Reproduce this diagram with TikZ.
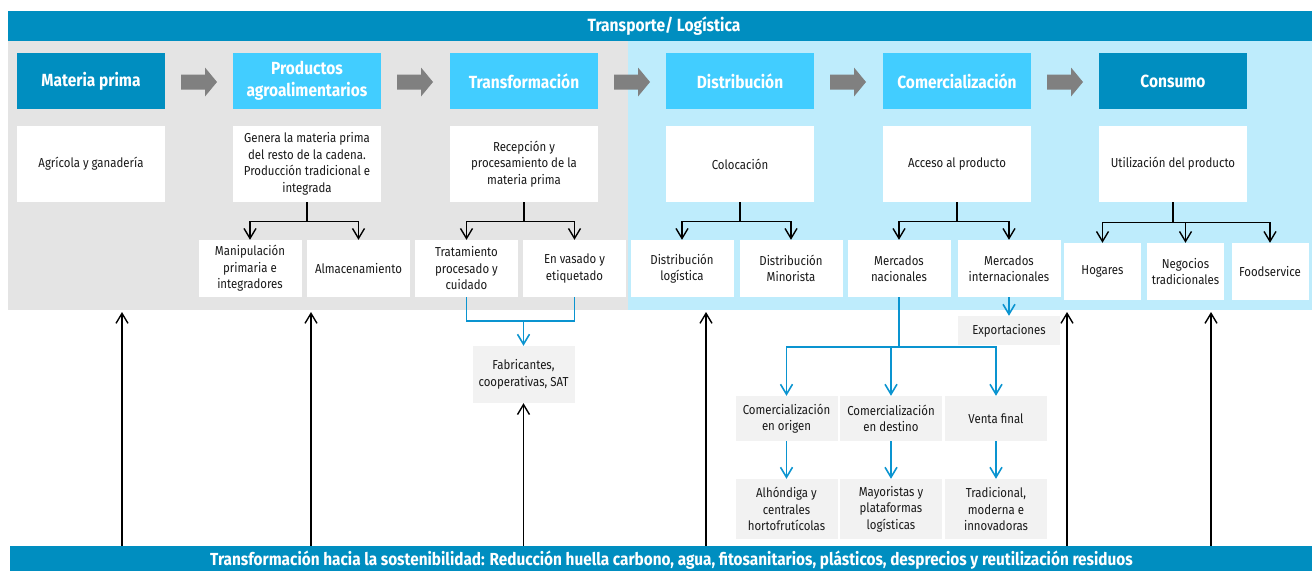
\documentclass[tikz,border=0pt]{standalone}
\usepackage{fontspec}
\setmainfont{Fira Sans}[FakeStretch=0.88]
\usetikzlibrary{arrows.meta}
\definecolor{dblue}{RGB}{0,142,192}
\definecolor{lblue}{RGB}{66,205,255}
\definecolor{bgblue}{RGB}{190,236,252}
\definecolor{bggray}{RGB}{228,228,228}
\definecolor{boxgray}{RGB}{242,242,242}
\definecolor{cblue}{RGB}{10,148,208}
\definecolor{agray}{RGB}{128,128,128}
\definecolor{txt}{RGB}{25,25,25}
\tikzset{
  hdr/.style={minimum width=148pt, minimum height=56pt, inner sep=0pt, align=center, text=white, font=\fontsize{17.6}{21.5}\selectfont\bfseries},
  hdrd/.style={hdr, fill=dblue},
  hdrl/.style={hdr, fill=lblue},
  bodyfont/.style={font=\fontsize{13}{16.5}\selectfont},
  desc/.style={bodyfont, fill=white, minimum width=148pt, minimum height=76pt, inner sep=0pt, align=center, text=txt},
  sub/.style={bodyfont, fill=white, minimum width=103pt, minimum height=57pt, inner sep=0pt, align=center, text=txt},
  csub/.style={sub, minimum width=77pt},
  gsub/.style={sub, fill=boxgray, minimum width=102pt},
  blk/.style={draw=black, line width=1.4pt, -{Straight Barb[length=10pt,width=12pt]}},
  bln/.style={draw=cblue, line width=1.6pt},
  blar/.style={bln, -{Straight Barb[length=10pt,width=12pt]}},
  bannerbox/.style={fill=dblue, inner sep=0pt},
  toptextstyle/.style={text=white, inner sep=0pt, font=\fontsize{17.7}{19}\selectfont\bfseries},
  bottextstyle/.style={text=white, inner sep=0pt, font=\fontsize{17.45}{19}\selectfont\bfseries},
}
\newcommand{\blockarrow}[1]{\fill[agray] (#1,74.5) -- (#1+24,74.5) -- (#1+24,67.5) -- (#1+36,82) -- (#1+24,96.5) -- (#1+24,89.5) -- (#1,89.5) -- cycle;}
\begin{document}
\begin{tikzpicture}[x=1pt,y=-1pt]
\useasboundingbox (0,0) rectangle (1312,571);
% backgrounds
\fill[bggray] (8,41) rectangle (628,310);
\fill[bgblue] (628,41) rectangle (1312,310);
\node[bannerbox, minimum width=1304pt, minimum height=30pt] (top) at (660,26) {};
\node[toptextstyle] (toptext) at (664,26) {Transporte/ Logística};
\node[bannerbox, minimum width=1302pt, minimum height=25pt] (bb) at (661,558.5) {};
\node[bottextstyle] (bbtext) at (671.5,560) {Transformación hacia la sostenibilidad: Reducción huella carbono, agua, fitosanitarios, plásticos, desprecios y reutilización residuos};
% headers
\node[hdrd] (h1) at (91,81) {Materia prima};
\node[hdrl] (h2) at (307,81) {Productos\\agroalimentarios};
\node[hdrl] (h3) at (524,81) {Transformación};
\node[hdrl] (h4) at (740,81) {Distribución};
\node[hdrl] (h5) at (957,81) {Comercialización};
\node[hdrd] (h6) at (1173,81) {Consumo};
\blockarrow{181}
\blockarrow{397}
\blockarrow{614}
\blockarrow{830}
\blockarrow{1047}
% descriptions
\node[desc] (d1) at (91,164) {Agrícola y ganadería};
\node[desc] (d2) at (307,164) {Genera la materia prima\\del resto de la cadena.\\Producción tradicional e\\integrada};
\node[desc] (d3) at (524,164) {Recepción y\\procesamiento de la\\materia prima};
\node[desc] (d4) at (740,164) {Colocación};
\node[desc] (d5) at (957,164) {Acceso al producto};
\node[desc] (d6) at (1173,164) {Utilización del producto};
% sub boxes
\node[sub] (s1) at (250,268.5) {Manipulación\\primaria e\\integradores};
\node[sub] (s2) at (358.5,268.5) {Almacenamiento};
\node[sub] (s3) at (466.5,268.5) {Tratamiento\\procesado y\\cuidado};
\node[sub] (s4) at (574.5,268.5) {En vasado y\\etiquetado};
\node[sub] (s5) at (682,268.5) {Distribución\\logística};
\node[sub] (s6) at (791,268.5) {Distribución\\Minorista};
\node[sub] (s7) at (899,268.5) {Mercados\\nacionales};
\node[sub] (s8) at (1009,268.5) {Mercados\\internacionales};
\node[csub] (k1) at (1102.5,271.5) {Hogares};
\node[csub] (k2) at (1185.5,271.5) {Negocios\\tradicionales};
\node[csub] (k3) at (1270,271.5) {Foodservice};
% black branches
\draw[blk] (d2.south) -- ++(0,19) -| (s1.north);
\draw[blk] (d2.south) -- ++(0,19) -| (s2.north);
\draw[blk] (d3.south) -- ++(0,19) -| (s3.north);
\draw[blk] (d3.south) -- ++(0,19) -| (s4.north);
\draw[blk] (d4.south) -- ++(0,19) -| (s5.north);
\draw[blk] (d4.south) -- ++(0,19) -| (s6.north);
\draw[blk] (d5.south) -- ++(0,19) -| (s7.north);
\draw[blk] (d5.south) -- ++(0,19) -| (s8.north);
\draw[blk] (d6.south) -- ++(0,20) -| (k1.north);
\draw[blk] (d6.south) -- ++(0,20) -| (k2.north);
\draw[blk] (d6.south) -- ++(0,20) -| (k3.north);
% lower gray boxes
\node[gsub] (fab) at (523.5,374.5) {Fabricantes,\\cooperativas, SAT};
\node[gsub, minimum height=29pt] (ex) at (1009,330.5) {Exportaciones};
\node[gsub, minimum height=45pt] (o1) at (786.5,418.5) {Comercialización\\en origen};
\node[gsub, minimum height=45pt] (o2) at (891,418.5) {Comercialización\\en destino};
\node[gsub, minimum height=45pt] (o3) at (996,418.5) {Venta final};
\node[gsub, minimum height=60pt] (p1) at (786.5,509) {Alhóndiga y\\centrales\\hortofrutícolas};
\node[gsub, minimum height=60pt] (p2) at (891,509) {Mayoristas y\\plataformas\\logísticas};
\node[gsub, minimum height=60pt] (p3) at (996,509) {Tradicional,\\moderna e\\innovadoras};
% blue connectors
\draw[bln] (s3.south) -- ++(0,24) -| (s4.south);
\coordinate (fj) at (523.5,321);
\draw[blar] (fj) -- (fab.north);
\draw[blar] (s8.south) -- (ex.north);
\draw[bln] (s7.south) -- ++(0,50) coordinate (mj);
\draw[blar] (mj) -| (o1.north);
\draw[blar] (mj) -| (o2.north);
\draw[blar] (mj) -| (o3.north);
\draw[blar] (o1.south) -- (p1.north);
\draw[blar] (o2.south) -- (p2.north);
\draw[blar] (o3.south) -- (p3.north);
% upward arrows from bottom banner
\coordinate (u1) at (122,312);
\coordinate (u2) at (311,312);
\coordinate (u3) at (706,312);
\coordinate (u4) at (1067,312);
\coordinate (u5) at (1211,312);
\draw[blk] (bb.north -| u1) -- (u1);
\draw[blk] (bb.north -| u2) -- (u2);
\draw[blk] (bb.north -| u3) -- (u3);
\draw[blk] (bb.north -| u4) -- (u4);
\draw[blk] (bb.north -| u5) -- (u5);
\draw[blk] (bb.north -| fab.south) -- (fab.south);
\end{tikzpicture}
\end{document}
